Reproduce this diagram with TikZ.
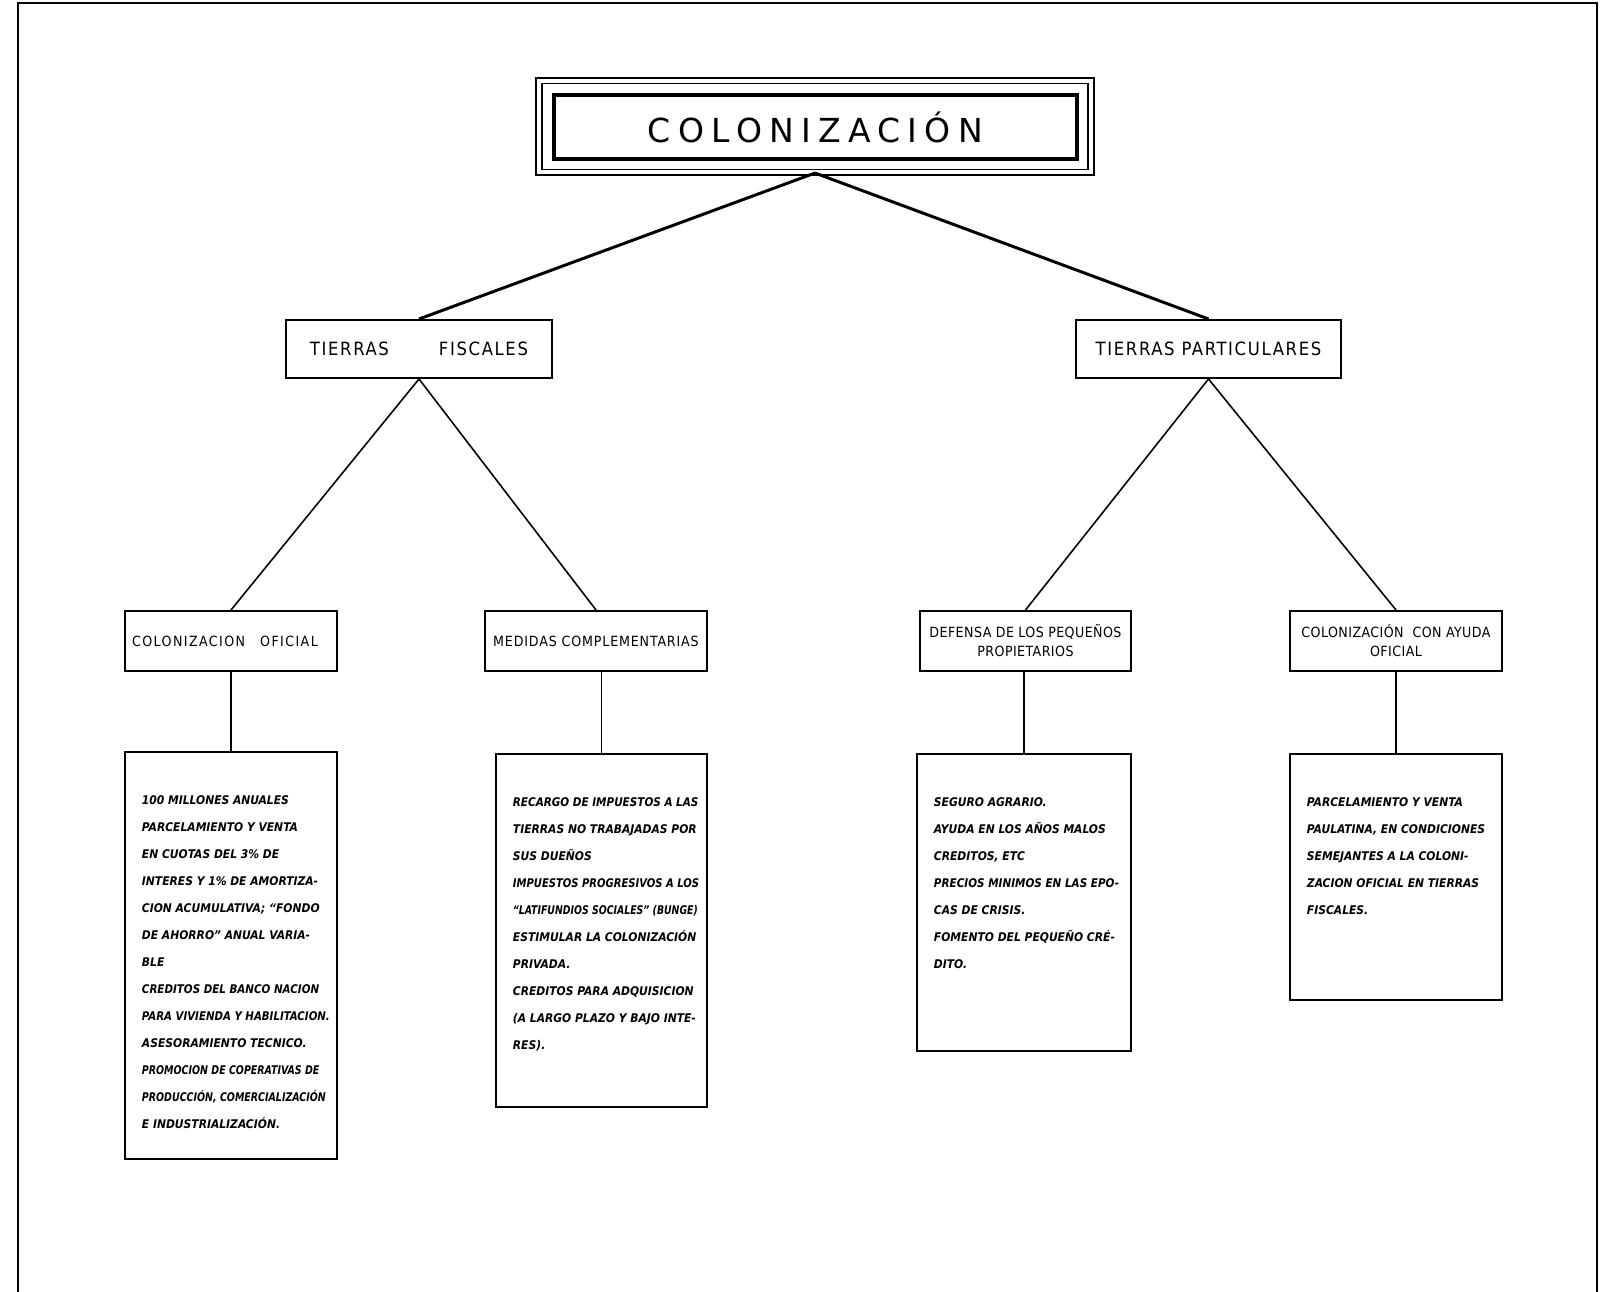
\documentclass[tikz,border=0pt]{standalone}
\usepackage{graphicx}
\usepackage{fontspec}
\setmainfont{DejaVu Sans}
\newfontfamily\titulofont[LetterSpace=22]{DejaVu Sans}
\newfontfamily\ramafont[LetterSpace=9]{DejaVu Sans Condensed}
\newfontfamily\ramitafont[LetterSpace=3]{DejaVu Sans Condensed}
\newfontfamily\hojafont{DejaVu Sans Condensed Bold Oblique}
\newcommand{\hoja}[3]{\parbox[t][#2][t]{#1}{\begin{tabular}[t]{@{}l@{}}#3\end{tabular}}}
\newcommand{\apretado}[2]{\scalebox{#1}[1]{#2}}

\begin{document}
\begin{tikzpicture}[x=0.01cm, y=-0.01cm]
      \tikzset{
	  rama/.style={draw=black, line width=0.55pt, inner sep=0pt, minimum height=0.58cm, font=\ramafont\fontsize{5.2}{6}\selectfont},
	  ramita/.style={draw=black, line width=0.55pt, inner sep=0pt, minimum height=0.6cm, align=center, font=\ramitafont\fontsize{4}{5.4}\selectfont},
	  hojabox/.style={draw=black, line width=0.6pt, anchor=north, inner xsep=0.17cm, inner ysep=0.33cm, font=\hojafont\fontsize{3.4}{7.7}\selectfont},
	  enlace/.style={draw=black, line width=0.45pt}
      }
      \useasboundingbox (0,0) rectangle (1602,1292);
      \draw[line width=0.8pt] (18,1292) -- (18,3) -- (1597,3) -- (1597,1292);

      \node[draw, line width=1.2pt, minimum width=5.23cm, minimum height=0.64cm, font=\titulofont\fontsize{9.4}{11}\selectfont] (titulo) at (815.5,127) {COLONIZACIÓN};
      \node[draw, double, double distance=1.2pt, line width=0.45pt, minimum width=5.52cm, minimum height=0.915cm] (marco) at (815,126.5) {};

      \node[rama, minimum width=2.66cm] (tf) at (419,349) {TIERRAS\hspace{0.5cm}FISCALES};
      \node[rama, minimum width=2.65cm] (tp) at (1208.5,349) {TIERRAS PARTICULARES};

      \node[ramita, minimum width=2.12cm] (co) at (231,641) {\addfontfeature{LetterSpace=10}COLONIZACION\hspace{0.15cm}OFICIAL\hspace{0.12cm}};
      \node[ramita, minimum width=2.22cm] (mc) at (596,641) {\addfontfeature{LetterSpace=6}MEDIDAS COMPLEMENTARIAS};
      \node[ramita, minimum width=2.11cm] (dp) at (1025.5,641) {DEFENSA DE LOS PEQUEÑOS\\PROPIETARIOS};
      \node[ramita, minimum width=2.12cm] (ca) at (1396,641) {COLONIZACIÓN\ \ CON AYUDA\\OFICIAL};

      \node[hojabox] (b1) at (231,751) {\hoja{1.78cm}{3.41cm}{100 MILLONES ANUALES\\
        PARCELAMIENTO Y VENTA\\
        EN CUOTAS DEL 3\% DE\\
        INTERES Y 1\% DE AMORTIZA-\\
        CION ACUMULATIVA; “FONDO\\
        DE AHORRO” ANUAL VARIA-\\
        BLE\\
        \apretado{0.96}{CREDITOS DEL BANCO NACION}\\
        \apretado{0.95}{PARA VIVIENDA Y HABILITACION.}\\
        ASESORAMIENTO TECNICO.\\
        \apretado{0.88}{PROMOCION DE COPERATIVAS DE}\\
        \apretado{0.88}{PRODUCCIÓN, COMERCIALIZACIÓN}\\
        E INDUSTRIALIZACIÓN.}};
      \node[hojabox] (b2) at (601.5,753) {\hoja{1.77cm}{2.87cm}{\apretado{0.97}{RECARGO DE IMPUESTOS A LAS}\\
        TIERRAS NO TRABAJADAS POR\\
        SUS DUEÑOS\\
        \apretado{0.93}{IMPUESTOS PROGRESIVOS A LOS}\\
        \apretado{0.87}{“LATIFUNDIOS SOCIALES” (BUNGE)}\\
        ESTIMULAR LA COLONIZACIÓN\\
        PRIVADA.\\
        CREDITOS PARA ADQUISICION\\
        (A LARGO PLAZO Y BAJO INTE-\\
        RES).}};
      \node[hojabox] (b3) at (1024,753) {\hoja{1.80cm}{2.31cm}{SEGURO AGRARIO.\\
        AYUDA EN LOS AÑOS MALOS\\
        CREDITOS, ETC\\
        \apretado{0.97}{PRECIOS MINIMOS EN LAS EPO-}\\
        CAS DE CRISIS.\\
        FOMENTO DEL PEQUEÑO CRÉ-\\
        DITO.}};
      \node[hojabox] (b4) at (1396,753) {\hoja{1.78cm}{1.80cm}{PARCELAMIENTO Y VENTA\\
        PAULATINA, EN CONDICIONES\\
        SEMEJANTES A LA COLONI-\\
        ZACION OFICIAL EN TIERRAS\\
        FISCALES.}};

      \draw[line width=0.85pt] (marco.south) -- (tf.north);
      \draw[line width=0.85pt] (marco.south) -- (tp.north);
      \draw[enlace] (tf.south) -- (co.north);
      \draw[enlace] (tf.south) -- (mc.north);
      \draw[enlace] (tp.south) -- (dp.north);
      \draw[enlace] (tp.south) -- (ca.north);
      \draw[enlace] (b1.north) -- (b1.north |- co.south);
      \draw[enlace] (b2.north) -- (b2.north |- mc.south);
      \draw[enlace] (b3.north) -- (b3.north |- dp.south);
      \draw[enlace] (b4.north) -- (b4.north |- ca.south);
\end{tikzpicture}
\end{document}
